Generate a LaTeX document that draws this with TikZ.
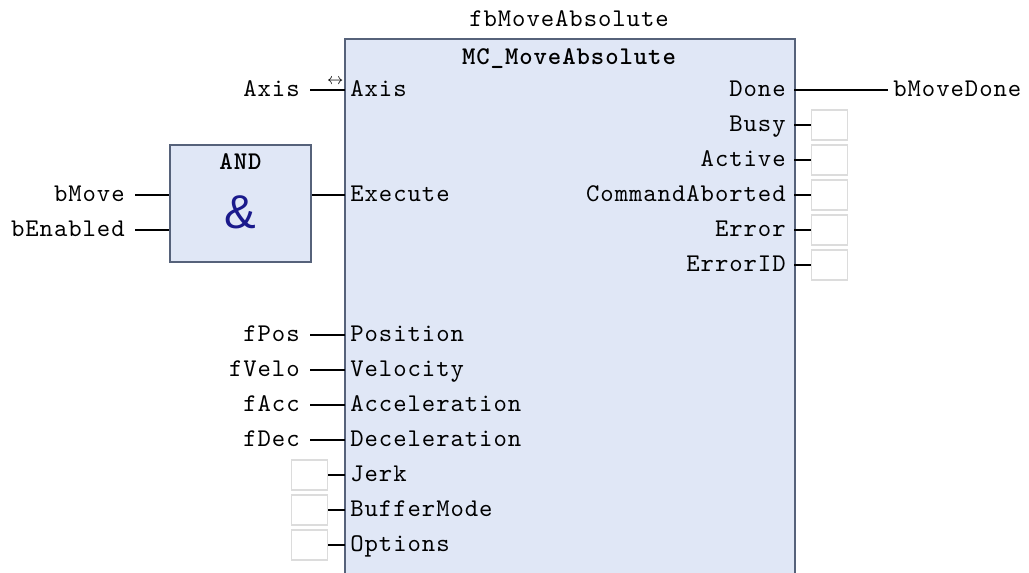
\documentclass[tikz,border=0pt]{standalone}
\usepackage{fontspec}
\setmonofont{lmmono10-regular.otf}[BoldFont=lmmonolt10-bold.otf,LetterSpace=3.7]
\newfontfamily\ampfont{Liberation Sans}
\usetikzlibrary{positioning}
\definecolor{fbfill}{HTML}{E0E7F6}
\definecolor{fbline}{HTML}{56627A}
\definecolor{ampblue}{HTML}{1A1A8C}
\definecolor{voidline}{HTML}{DCDCDC}
\newcommand{\fbfont}{\ttfamily\fontsize{14.5}{16}\selectfont}

\begin{document}
\begin{tikzpicture}[x=0.02cm,y=-0.02cm,font=\fbfont,
    lbl/.style={inner ysep=0pt,text height=7.5pt,text depth=0pt},
    pinl/.style={lbl,anchor=west,inner xsep=0.1cm},
    pinr/.style={lbl,anchor=east,inner xsep=0.16cm},
    varl/.style={lbl,anchor=east,inner xsep=0.2cm},
    varr/.style={lbl,anchor=west,inner xsep=0.1cm},
    wire/.style={line width=0.7pt},
    voidbox/.style={draw=voidline,fill=white,line width=0.6pt,
      minimum width=0.72cm,minimum height=0.6cm,inner sep=0pt},
    block/.style={fill=fbfill,inner sep=0pt}]
    \def\rowtop{90}
    \def\rowh{35}
    \useasboundingbox (0,0) rectangle (1029,573);

    % function block
    \node[block,anchor=north west,minimum width=8.98cm,minimum height=10.68cm]
      (fb) at (345,39) {};
    \draw[fbline,line width=1.1pt]
      (fb.south west) -- (fb.north west) -- (fb.north east) -- (fb.south east);
    \node[lbl] (inst) at (569,20) {fbMoveAbsolute};
    \node[lbl,font=\fbfont\bfseries] (fbtype) at (569,58) {MC\_MoveAbsolute};

    % axis reference
    \node[pinl] (in0) at (345,\rowtop) {Axis};
    \node[varl] (var0) at (310,\rowtop) {Axis};
    \draw[wire] (var0.east) -- (in0.west)
      node[pos=0.72,inner sep=0pt,yshift=0.16cm,font=\fontsize{9}{10}\selectfont]
      (axisref) {$\leftrightarrow$};

    % inputs
    \node[pinl] (in3) at (345,{\rowtop+3*\rowh}) {Execute};
    \foreach \pin/\var/\k in {Position/fPos/7,Velocity/fVelo/8,
        Acceleration/fAcc/9,Deceleration/fDec/10} {
      \node[pinl] (in\k) at (345,{\rowtop+\k*\rowh}) {\pin};
      \node[varl] (var\k) at (310,{\rowtop+\k*\rowh}) {\var};
      \draw[wire] (var\k.east) -- (in\k.west);
    }
    \foreach \pin/\k in {Jerk/11,BufferMode/12,Options/13} {
      \node[pinl] (in\k) at (345,{\rowtop+\k*\rowh}) {\pin};
      \node[voidbox,anchor=east] (void\k) at (328,{\rowtop+\k*\rowh}) {};
      \draw[wire] (void\k.east) -- (in\k.west);
    }

    % outputs
    \node[pinr] (out0) at (794,\rowtop) {Done};
    \node[varr] (done) at (888,\rowtop) {bMoveDone};
    \draw[wire] (out0.east) -- (done.west);
    \foreach \pin/\k in {Busy/1,Active/2,CommandAborted/3,Error/4,ErrorID/5} {
      \node[pinr] (out\k) at (794,{\rowtop+\k*\rowh}) {\pin};
      \node[voidbox,anchor=west] (ovoid\k) at (811,{\rowtop+\k*\rowh}) {};
      \draw[wire] (out\k.east) -- (ovoid\k.west);
    }

    % AND gate
    \node[block,draw=fbline,line width=0.9pt,minimum width=2.82cm,minimum height=2.34cm]
      (andgate) at (240.5,203.5) {};
    \node[lbl,font=\fbfont\bfseries] (andname) at (240.5,163) {AND};
    \node[inner sep=0pt,font=\ampfont\fontsize{27}{30}\selectfont,text=ampblue]
      (amp) at (240.5,212) {\&};
    \node[varl] (bmove) at (135,{\rowtop+3*\rowh}) {bMove};
    \node[varl] (benabled) at (135,{\rowtop+4*\rowh}) {bEnabled};
    \draw[wire] (bmove.east) -- (bmove.east -| andgate.west);
    \draw[wire] (benabled.east) -- (benabled.east -| andgate.west);
    \draw[wire] (andgate.east |- in3.west) -- (in3.west);
  \end{tikzpicture}
\end{document}
